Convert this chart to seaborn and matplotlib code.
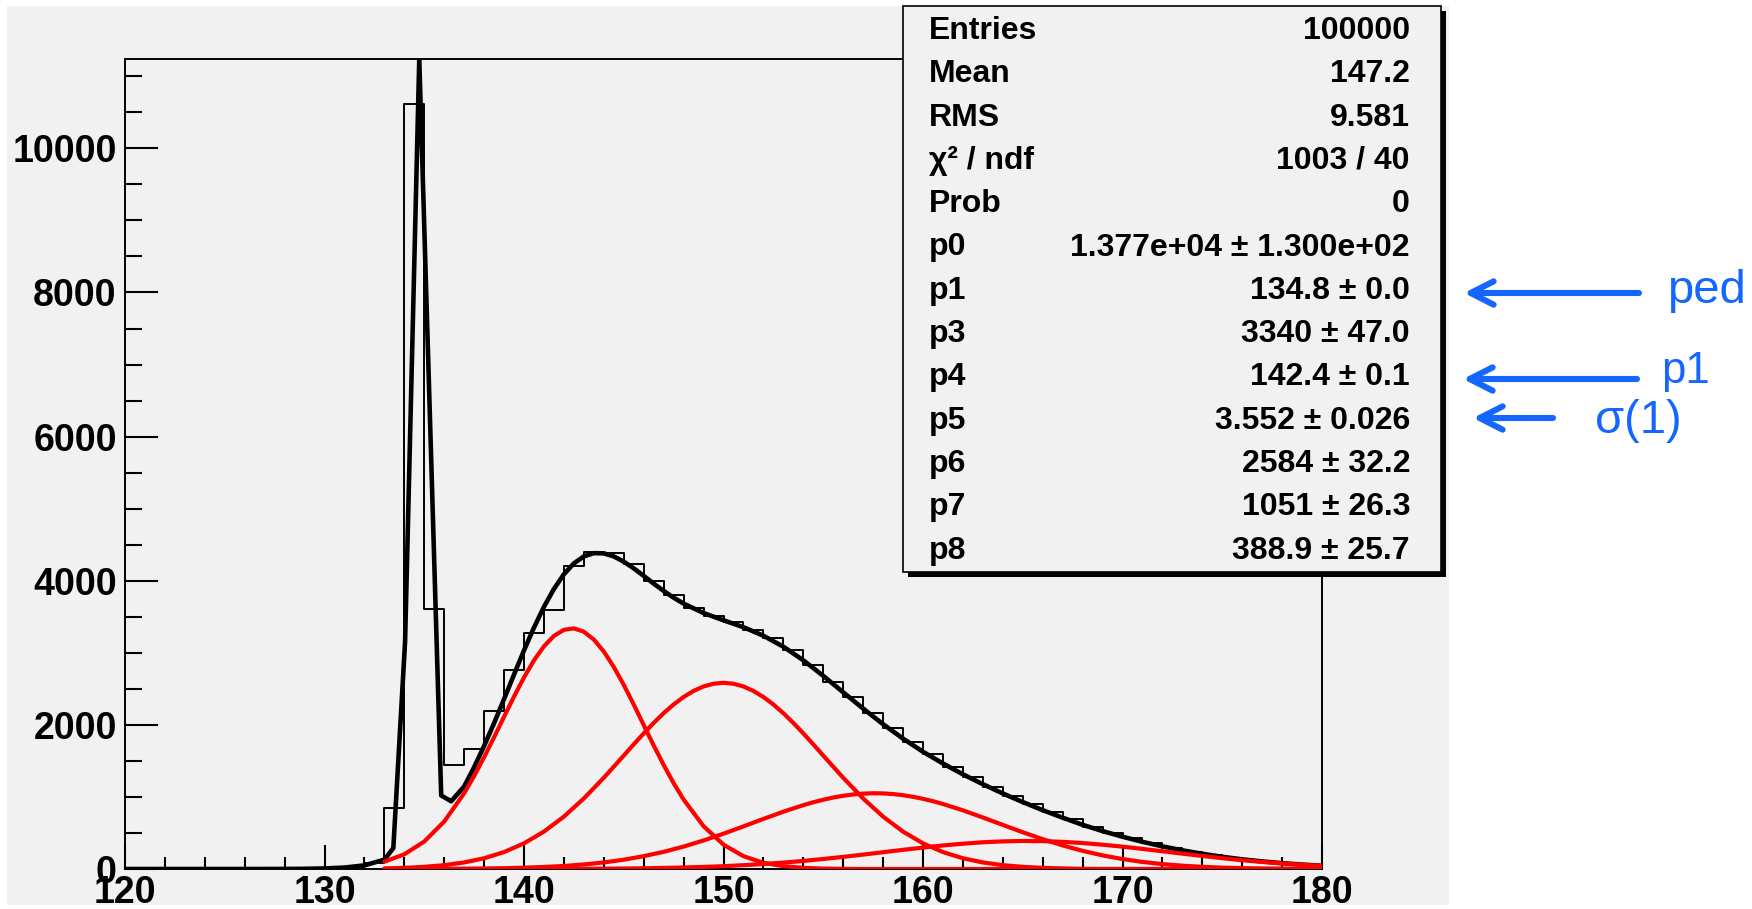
import numpy as np
import pandas as pd
import matplotlib
matplotlib.use("Agg")
import matplotlib.pyplot as plt
import seaborn as sns
from matplotlib import font_manager
from matplotlib.patches import Rectangle, FancyArrowPatch
from matplotlib.ticker import MultipleLocator

# ---------------- data ----------------
bin_left = list(range(120, 180))
hist_counts = [0, 0, 0, 0, 0, 0, 0, 0, 0, 0,
               10, 30, 80, 850, 10610, 3605, 1440, 1665, 2190, 2760,
               3270, 3600, 4200, 4400, 4390, 4230, 4000, 3800, 3620, 3510,
               3430, 3320, 3200, 3040, 2830, 2600, 2380, 2160, 1950, 1760,
               1590, 1420, 1280, 1140, 1010, 900, 790, 690, 585, 500,
               425, 355, 290, 240, 195, 155, 120, 95, 72, 55]

# total fit curve (black)
fit_x = ([120, 126, 128, 129, 130, 131, 132, 133, 133.45, 134.04, 134.75, 135.85, 136.35]
         + [137 + 0.5 * i for i in range(23)] + list(range(149, 181)))
fit_y = ([0, 0, 1, 3, 8, 20, 50, 130, 290, 3160, 11240, 1020, 940]
         + [1146, 1412, 1707, 2024, 2358, 2698, 3033, 3350, 3638, 3886, 4090, 4241, 4338,
            4383, 4380, 4338, 4265, 4172, 4068, 3960, 3859, 3765, 3683]
         + [3552, 3451, 3355, 3237, 3085, 2896, 2680, 2452, 2226, 2009, 1809, 1627, 1464,
            1314, 1177, 1048, 929, 816, 712, 613, 526, 448, 377, 314, 259, 211, 169, 134,
            105, 81, 61, 45])

# fit components (red)
comp1_x = list(range(133, 137)) + [137 + 0.5 * i for i in range(22)] + list(range(148, 181))
comp1_y = ([101, 204, 381, 659]
           + [1051, 1290, 1551, 1828, 2112, 2393, 2658, 2895, 3090, 3234, 3319, 3339, 3293,
              3184, 3018, 2804, 2555, 2282, 1998, 1715, 1444, 1191]
           + [964, 594, 338, 178, 86, 39, 16, 6, 2] + [0] * 24)
comp2_x = list(range(133, 146)) + [145.5 + 0.5 * i for i in range(19)] + list(range(155, 181))
comp2_y = ([8, 16, 30, 53, 91, 149, 235, 356, 519, 727, 979, 1266, 1574]
           + [1730, 1882, 2027, 2162, 2283, 2387, 2471, 2533, 2571, 2584, 2571, 2533, 2471,
              2387, 2283, 2162, 2027, 1882, 1730]
           + [1574, 1266, 979, 727, 519, 356, 235, 149, 91, 53, 30, 16, 8, 1] + [0] * 12)
comp3_x = list(range(133, 155)) + [154.5 + 0.5 * i for i in range(13)] + list(range(161, 181))
comp3_y = ([0, 1, 1, 2, 4, 7, 11, 18, 28, 42, 63, 91, 129, 178, 238, 311, 396, 490, 591,
            695, 795, 886]
           + [926, 961, 992, 1016, 1034, 1046, 1051, 1049, 1040, 1024, 1002, 974, 941]
           + [902, 814, 715, 612, 510, 414, 327, 252, 189, 138, 98, 68, 46, 30, 19, 12, 7,
              4, 2, 1])
comp4_x = list(range(133, 181))
comp4_y = [0, 0, 0, 0, 0, 0, 0, 1, 1, 2, 3, 5, 7, 10, 15, 21, 29, 39, 53, 69, 89, 112, 139,
           168, 200, 233, 266, 297, 327, 351, 371, 383, 389, 386, 377, 360, 337, 310, 279,
           246, 213, 181, 150, 122, 98, 77, 59, 44]

x_ticks = [120, 130, 140, 150, 160, 170, 180]
y_ticks = [0, 2000, 4000, 6000, 8000, 10000]
y_max = 11240

stat_labels = ["Entries", "Mean", "RMS", "χ² / ndf", "Prob", "p0", "p1", "p3", "p4",
               "p5", "p6", "p7", "p8"]
stat_values = ["100000", "147.2", "9.581", "1003 / 40", "0", "1.377e+04 ± 1.300e+02",
               "134.8 ± 0.0", "3340 ± 47.0", "142.4 ± 0.1", "3.552 ± 0.026",
               "2584 ± 32.2", "1051 ± 26.3", "388.9 ± 25.7"]
note_labels = ["ped", "p1", "σ(1)"]

# ---------------- style ----------------
sns.set_theme(style="white")
names = {f.name for f in font_manager.fontManager.ttflist}
NARROW = "Liberation Sans Narrow" in names
FONT = "Liberation Sans Narrow" if NARROW else "Liberation Sans"
plt.rcParams["font.family"] = [FONT, "DejaVu Sans"]
TICK_FS = 31 if NARROW else 27
STAT_FS = 27 if NARROW else 23

W, H = 1752, 909
fig = plt.figure(figsize=(W / 100, H / 100), dpi=100)
fig.patch.set_facecolor("white")


def fx(px):
    return px / W


def fy(py):
    return 1 - py / H


CANVAS = "#f1f1f1"
fig.add_artist(Rectangle((fx(7), fy(905)), fx(1449) - fx(7), fy(6) - fy(905),
                         transform=fig.transFigure, facecolor=CANVAS,
                         edgecolor="none", zorder=-5))

ax = fig.add_axes([fx(125), fy(869), fx(1322) - fx(125), fy(59) - fy(869)])
ax.set_facecolor("none")

# histogram
hdf = pd.DataFrame({"x": [b + 0.5 for b in bin_left], "w": hist_counts})
sns.histplot(data=hdf, x="x", weights="w", binwidth=1, binrange=(120, 180),
             element="step", fill=False, color="black", linewidth=1.4, ax=ax)

# total fit
sns.lineplot(x=fit_x, y=fit_y, color="black", linewidth=3.3, ax=ax, zorder=4)
# components
for cx, cy in ((comp1_x, comp1_y), (comp2_x, comp2_y), (comp3_x, comp3_y), (comp4_x, comp4_y)):
    sns.lineplot(x=cx, y=cy, color="#ff0000", linewidth=3.0, ax=ax, zorder=5)

ax.set_xlim(120, 180)
ax.set_ylim(0, y_max)
ax.set_xlabel("")
ax.set_ylabel("")

for s in ax.spines.values():
    s.set_visible(True)
    s.set_color("black")
    s.set_linewidth(1.4)

ax.set_xticks(x_ticks)
ax.set_yticks(y_ticks)
ax.xaxis.set_minor_locator(MultipleLocator(2))
ax.yaxis.set_minor_locator(MultipleLocator(500))
ax.tick_params(axis="y", which="major", direction="in", length=24, width=1.5,
               labelsize=TICK_FS, pad=6, left=True, right=False, color="black",
               labelcolor="black")
ax.tick_params(axis="y", which="minor", direction="in", length=12, width=1.5,
               left=True, right=False, color="black")
ax.tick_params(axis="x", which="major", direction="in", length=17.5, width=1.5,
               labelsize=TICK_FS, pad=4, bottom=True, top=False, color="black",
               labelcolor="black")
ax.tick_params(axis="x", which="minor", direction="in", length=8.7, width=1.5,
               bottom=True, top=False, color="black")
for lbl in ax.get_xticklabels() + ax.get_yticklabels():
    lbl.set_fontweight("bold")

# ---------------- stats box ----------------
bx0, bx1, by0, by1 = 903, 1441, 6, 572
fig.add_artist(Rectangle((fx(bx0 + 5), fy(by1 + 5)), fx(bx1) - fx(bx0), fy(by0) - fy(by1),
                         transform=fig.transFigure, facecolor="black",
                         edgecolor="none", zorder=5))
fig.add_artist(Rectangle((fx(bx0), fy(by1)), fx(bx1) - fx(bx0), fy(by0) - fy(by1),
                         transform=fig.transFigure, facecolor=CANVAS,
                         edgecolor="black", linewidth=1.2, zorder=6))
row0, step = 31, 43.3
for i, (lab, val) in enumerate(zip(stat_labels, stat_values)):
    yy = fy(row0 + i * step)
    fig.text(fx(929), yy, lab, ha="left", va="center", fontsize=STAT_FS,
             fontweight="bold", color="black", zorder=7)
    fig.text(fx(1410), yy, val, ha="right", va="center", fontsize=STAT_FS,
             fontweight="bold", color="black", zorder=7)

# ---------------- blue annotations ----------------
BLUE = "#1466ff"
arrows = [((1639, 293), (1464, 293)), ((1637, 379), (1463, 379)), ((1553, 418), (1473, 418))]
text_pos = [(1667, 303), (1661, 383), (1595, 433)]
text_fs = [34, 31.5, 34]
for (tail, head), lab, tp, fs in zip(arrows, note_labels, text_pos, text_fs):
    fig.add_artist(FancyArrowPatch(
        (fx(tail[0]), fy(tail[1])), (fx(head[0]), fy(head[1])),
        transform=fig.transFigure, arrowstyle="->,head_length=0.55,head_width=0.28",
        mutation_scale=30, color=BLUE, linewidth=4.4, zorder=8,
        shrinkA=0, shrinkB=0))
    fig.text(fx(tp[0]), fy(tp[1]), lab, ha="left", va="baseline", fontsize=fs,
             color=BLUE, family=["Liberation Sans", "DejaVu Sans"], zorder=8)

fig.savefig("out.png", dpi=100, facecolor=fig.get_facecolor())
